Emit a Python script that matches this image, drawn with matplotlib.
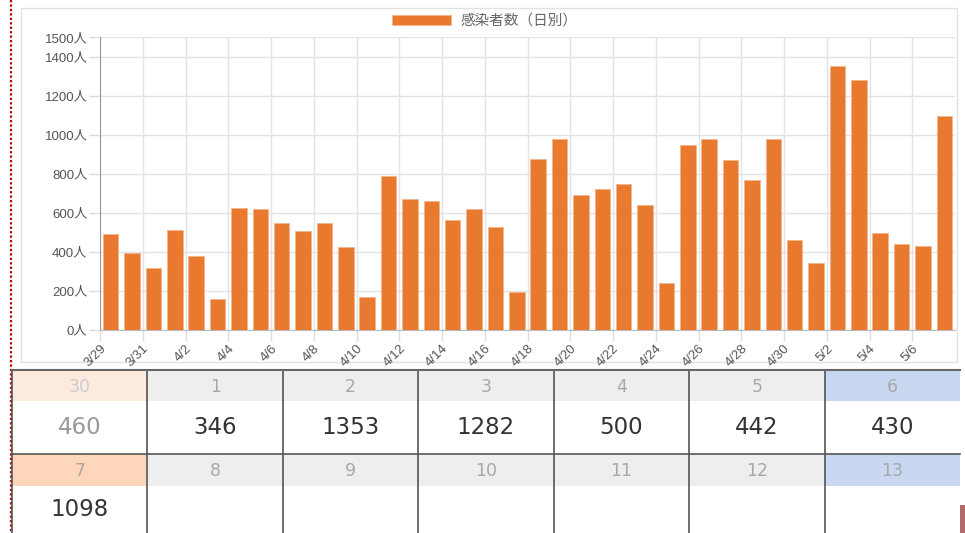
import matplotlib
matplotlib.use("Agg")
import matplotlib.pyplot as plt
from matplotlib.patches import Rectangle
import numpy as np

plt.rcParams['font.family'] = ['Liberation Sans', 'Noto Sans CJK JP', 'DejaVu Sans']

# daily new cases, 3/29 .. 5/7
dates = (["3/29", "3/30", "3/31"]
         + ["4/%d" % d for d in range(1, 31)]
         + ["5/%d" % d for d in range(1, 8)])
cases = [494, 396, 318, 513, 381, 157, 626, 619, 549, 506, 549,
         426, 170, 788, 671, 664, 562, 620, 529, 194, 875, 977,
         693, 725, 747, 642, 240, 951, 977, 871, 769, 982,
         460, 346, 1353, 1282, 500, 442, 430, 1098]
y_ticks = [0, 200, 400, 600, 800, 1000, 1200, 1400, 1500]
legend_label = "感染者数（日別）"

# calendar below the chart
cal_days = [[30, 1, 2, 3, 4, 5, 6], [7, 8, 9, 10, 11, 12, 13]]
cal_values = cases[-8:]

W, H = 965, 533
BAR = "#E8792E"


def main():
    fig = plt.figure(figsize=(W / 100, H / 100), dpi=100)

    # pixel overlay for frame + calendar table
    ov = fig.add_axes([0, 0, 1, 1], zorder=0)
    ov.set_xlim(0, W)
    ov.set_ylim(H, 0)
    ov.axis("off")

    ov.add_patch(Rectangle((21, 8), 936, 354, fill=False, ec="#e2e2e2", lw=1))
    ov.plot([11, 11], [0, H], color="#c00000", ls=(0, (1, 1)), lw=1.6)

    xs = np.linspace(12, 960, 8)
    rows = [(370, 401, 454), (454, 486, 533)]
    for r, (top, mid, bot) in enumerate(rows):
        for c in range(7):
            x0, x1 = xs[c], xs[c + 1]
            hc = "#EEEEEE"
            if c == 0:
                hc = "#FDEADF" if r == 0 else "#FDD6BC"
            elif c == 6:
                hc = "#C9D8F0"
            ov.add_patch(Rectangle((x0, top), x1 - x0, mid - top, fc=hc, ec="none"))
            day_col = "#cccccc" if (r == 0 and c == 0) else "#a8a8a8"
            ov.text((x0 + x1) / 2, (top + mid) / 2 + 1, str(cal_days[r][c]),
                    ha="center", va="center", fontsize=12.5, color=day_col,
                    family="DejaVu Sans")
            i = r * 7 + c
            if i < len(cal_values):
                vc = "#999999" if i == 0 else "#333333"
                ov.text((x0 + x1) / 2, (mid + bot) / 2, str(cal_values[i]),
                        ha="center", va="center", fontsize=16.5, color=vc,
                        family="DejaVu Sans")
    for x in xs[:-1]:
        ov.plot([x, x], [370, H], color="#555555", lw=1.2)
    ov.plot([xs[0], xs[-1]], [370, 370], color="#666666", lw=1.5)
    ov.plot([xs[0], xs[-1]], [454, 454], color="#555555", lw=1.2)
    ov.add_patch(Rectangle((960, 505), 5, 28, fc="#b26a6a", ec="none"))

    # bar chart
    ax = fig.add_axes([100 / W, (H - 330) / H, 855 / W, (330 - 37.5) / H],
                      zorder=1, facecolor="none")
    x = np.arange(len(cases))
    ax.bar(x, cases, width=0.72, color=BAR, edgecolor="#f3b48a", lw=0.6,
           label=legend_label, zorder=3)
    ax.set_xlim(-0.5, len(cases) - 0.5)
    ax.set_ylim(0, 1500)

    ax.set_yticks(y_ticks)
    ax.set_yticklabels(["%d人" % v for v in y_ticks], fontsize=9.5, color="#555555")
    bounds = np.arange(-0.5, len(cases) - 0.5, 2)
    ax.set_xticks(bounds)
    ax.set_xticklabels(dates[0::2], rotation=45, ha="right", va="top",
                       rotation_mode="anchor", fontsize=9.5, color="#555555")
    ax.tick_params(axis="both", length=8, color="#dddddd", width=1)
    ax.tick_params(axis="y", pad=1)
    ax.tick_params(axis="x", pad=1)
    ax.grid(True, color="#e3e3e3", lw=1, zorder=0)
    for s in ["top", "right"]:
        ax.spines[s].set_visible(False)
    ax.spines["left"].set_color("#999999")
    ax.spines["bottom"].set_color("#bbbbbb")

    leg = ax.legend(loc="center", bbox_to_anchor=(485 / W, (H - 21) / H),
                    bbox_transform=fig.transFigure, frameon=False, fontsize=10.5,
                    handlelength=4.0, handleheight=0.7, handletextpad=0.7)
    for t in leg.get_texts():
        t.set_color("#666666")

    fig.savefig("out.png", dpi=100)


if __name__ == "__main__":
    main()
